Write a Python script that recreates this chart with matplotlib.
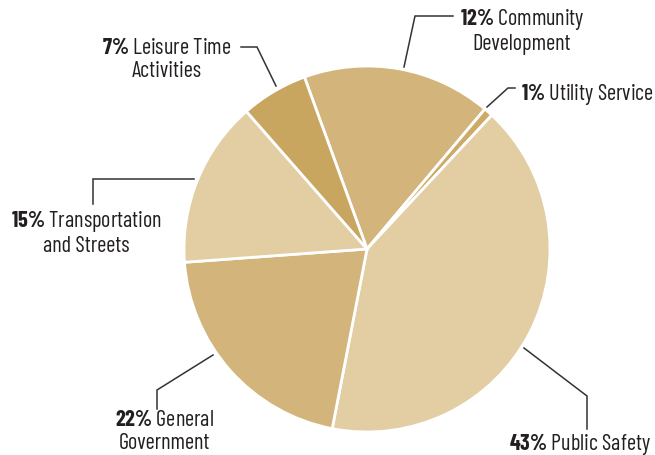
import matplotlib
matplotlib.use("Agg")
import matplotlib.pyplot as plt
from matplotlib import font_manager

W, H = 655, 456

# wedge shares as drawn in the picture (clockwise from the top-left)
categories = ["Community\nDevelopment", "Utility Service", "Public Safety",
              "General\nGovernment", "Transportation\nand Streets",
              "Leisure Time\nActivities"]
shares = [16.7, 0.8, 41.1, 20.8, 14.7, 5.9]
pct_labels = ["12%", "1%", "43%", "22%", "15%", "7%"]
colors = ["#d3b57b", "#cdaa66", "#e3cda3", "#d3b57b", "#e3cda3", "#c9a660"]

names = {f.name for f in font_manager.fontManager.ttflist}
FONT, FSIZE = "DejaVu Sans", 12
for cand, size in [("Barlow Condensed", 16), ("Barlow Semi Condensed", 14),
                   ("Asap Condensed", 14), ("Archivo Narrow", 14),
                   ("Liberation Sans Narrow", 14)]:
    if cand in names:
        FONT, FSIZE = cand, size
        break
plt.rcParams["font.family"] = [FONT, "DejaVu Sans"]
plt.rcParams["mathtext.fontset"] = "custom"
plt.rcParams["mathtext.rm"] = FONT
plt.rcParams["mathtext.bf"] = FONT + ":bold"

TXT = "#231f20"
LINE = "#333333"

fig = plt.figure(figsize=(W / 100, H / 100), dpi=100)
ax = fig.add_axes([0, 0, 1, 1])


def py(y):
    # pixel row (from top) -> data y
    return H - y


ax.pie(shares, colors=colors, startangle=110, counterclock=False,
       center=(367, py(250)), radius=183,
       wedgeprops=dict(edgecolor="white", linewidth=2.0))

ax.set_xlim(0, W)
ax.set_ylim(0, H)
ax.set_aspect("equal")
ax.axis("off")

# label placement: (x, y, ha, va)
label_pos = [
    (522, 31, "center", "center"),
    (521, 100, "left", "baseline"),
    (580, 450, "center", "baseline"),
    (164, 432, "center", "center"),
    (86, 233, "center", "center"),
    (167, 60, "center", "center"),
]

# leader lines in pixel coords
leaders = [
    [(404, 68), (415, 17), (453, 17)],
    [(487, 108), (508, 89), (515, 89)],
    [(524, 349), (587, 397), (587, 430)],
    [(213, 356), (157, 391), (157, 410)],
    [(194, 180), (93, 180), (93, 205)],
    [(276, 87), (257, 48), (241, 48)],
]

for cat, pct, (x, y, ha, va), pts in zip(categories, pct_labels, label_pos, leaders):
    first, *rest = cat.split("\n")
    pct_tex = pct.replace("%", r"\%")
    text = r"$\bf{" + pct_tex + "}$ " + first
    if rest:
        text += "\n" + "\n".join(rest)
    ax.text(x, py(y), text, ha=ha, va=va, fontsize=FSIZE, color=TXT,
            multialignment="center", linespacing=1.08)
    ax.plot([p[0] for p in pts], [py(p[1]) for p in pts], color=LINE,
            linewidth=1.1, solid_joinstyle="miter")

fig.savefig("out.png", dpi=100)
